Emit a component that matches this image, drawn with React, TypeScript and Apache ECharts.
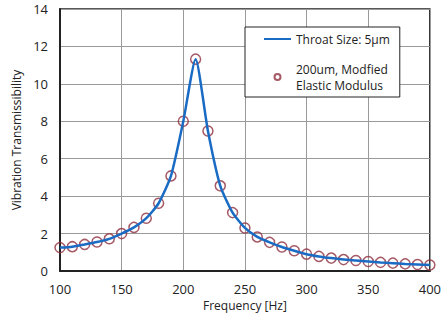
import React, { useEffect, useRef } from "react";
import * as echarts from "echarts";

const frequencies = [100,110,120,130,140,150,160,170,180,190,200,210,220,230,240,250,260,270,280,290,300,310,320,330,340,350,360,370,380,390,400];
const throatValues = [1.25,1.3,1.42,1.55,1.72,2.0,2.33,2.82,3.62,5.08,8.0,11.32,7.48,4.55,3.12,2.3,1.82,1.53,1.28,1.08,0.9,0.78,0.69,0.61,0.56,0.51,0.46,0.42,0.38,0.35,0.32];
const modifiedValues = [1.25,1.3,1.42,1.55,1.72,2.0,2.33,2.82,3.62,5.08,8.0,11.32,7.48,4.55,3.12,2.3,1.82,1.53,1.28,1.08,0.9,0.78,0.69,0.61,0.56,0.51,0.46,0.42,0.38,0.35,0.32];
const xTicks = [100,150,200,250,300,350,400];
const yTicks = [0,2,4,6,8,10,12,14];

const FONT = "'Open Sans', 'Noto Sans', sans-serif";

export default function App() {
  const ref = useRef<HTMLDivElement>(null);
  useEffect(() => {
    if (!ref.current) return;
    const chart = echarts.init(ref.current, null, { renderer: "svg" });
    chart.setOption({
      animation: false,
      backgroundColor: "#fff",
      textStyle: { fontFamily: FONT },
      grid: { left: 60, right: 14, top: 9, bottom: 51, show: true, borderColor: "#222", borderWidth: 1.5 },
      legend: {
        left: 245, top: 27, width: 165,
        orient: "vertical",
        backgroundColor: "#fff",
        borderColor: "#222", borderWidth: 1,
        padding: [4, 10, 4, 18],
        itemGap: 14,
        itemWidth: 27, itemHeight: 10,
        textStyle: { fontFamily: FONT, fontSize: 12, color: "#222", lineHeight: 16 },
        data: [
          { name: "Throat Size: 5µm", icon: "path://M0,0H27V2H0Z" },
          { name: "200um, Modfied\nElastic Modulus", icon: "path://M0,0M27,10M10.5,5A3,3,0,1,0,16.5,5A3,3,0,1,0,10.5,5Z" },
        ],
      },
      xAxis: {
        type: "value", min: xTicks[0], max: xTicks[xTicks.length - 1], interval: 50,
        name: "Frequency [Hz]", nameLocation: "middle", nameGap: 28,
        nameTextStyle: { fontFamily: FONT, fontSize: 12, color: "#222" },
        axisLine: { lineStyle: { color: "#222", width: 2 } },
        axisTick: { show: false },
        axisLabel: { fontFamily: FONT, fontSize: 13, color: "#222", margin: 11 },
        splitLine: { lineStyle: { color: "#9a9a9a", width: 1 } },
      },
      yAxis: {
        type: "value", min: yTicks[0], max: yTicks[yTicks.length - 1], interval: 2,
        name: "Vibration Transmissibility", nameLocation: "middle", nameGap: 31,
        nameTextStyle: { fontFamily: FONT, fontSize: 12, color: "#222" },
        axisLine: { show: true, lineStyle: { color: "#222", width: 2 } },
        axisTick: { show: false },
        axisLabel: { fontFamily: FONT, fontSize: 13, color: "#222", margin: 12 },
        splitLine: { lineStyle: { color: "#9a9a9a", width: 1 } },
      },
      series: [
        {
          name: "Throat Size: 5µm",
          type: "line",
          data: frequencies.map((f, i) => [f, throatValues[i]]),
          showSymbol: false,
          smooth: 0.2,
          lineStyle: { color: "#1a6bc4", width: 2.5 },
          itemStyle: { color: "#1a6bc4" },
        },
        {
          name: "200um, Modfied\nElastic Modulus",
          type: "scatter",
          data: frequencies.map((f, i) => [f, modifiedValues[i]]),
          symbol: "circle",
          symbolSize: 10,
          itemStyle: { color: "rgba(0,0,0,0)", borderColor: "#8e2f3e", borderWidth: 1.5 },
        },
      ],
    });
    return () => chart.dispose();
  }, []);
  return <div ref={ref} style={{ width: 444, height: 322, position: "absolute", left: 0, top: 0 }} />;
}
